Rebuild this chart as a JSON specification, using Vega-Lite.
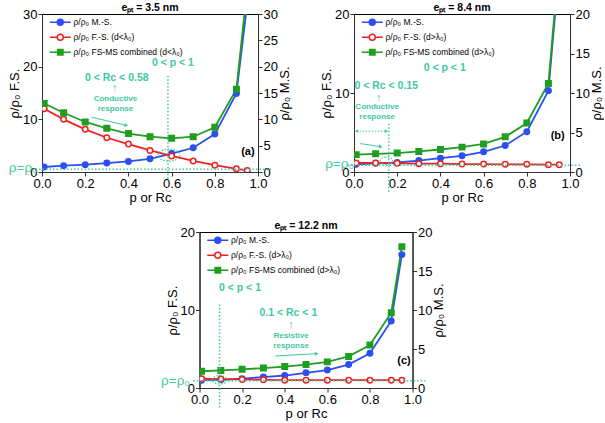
{
  "$schema": "https://vega.github.io/schema/vega-lite/v6.json",
  "padding": {"left": 8, "top": 2, "right": 0, "bottom": 0},
  "config": {
    "font": "Liberation Sans",
    "view": {"stroke": "black", "strokeWidth": 1},
    "axis": {
      "grid": false, "labelFontSize": 13, "titleFontSize": 13, "titleFontWeight": "normal", "labelFlush": false,
      "labelColor": "black", "titleColor": "black", "domainColor": "#333333", "tickColor": "#333333",
      "tickSize": 4, "labelPadding": 1, "titlePadding": 1
    },
    "legend": {
      "orient": "top-left", "offset": 3, "labelFontSize": 8.5, "symbolSize": 36,
      "symbolStrokeWidth": 1.5, "rowPadding": 2, "padding": 1, "labelLimit": 250,
      "symbolOffset": 10, "labelOffset": 9
    },
    "title": {"fontSize": 10.5, "fontWeight": "bold", "offset": -5, "color": "black"}
  },
  "datasets": {
    "a": [
      {"p": 0.01, "v": 0.95, "s": "MS"}, {"p": 0.1, "v": 1.2, "s": "MS"}, {"p": 0.2, "v": 1.4, "s": "MS"},
      {"p": 0.3, "v": 1.7, "s": "MS"}, {"p": 0.4, "v": 2.0, "s": "MS"}, {"p": 0.5, "v": 2.5, "s": "MS"},
      {"p": 0.6, "v": 3.5, "s": "MS"}, {"p": 0.7, "v": 4.6, "s": "MS"}, {"p": 0.8, "v": 7.2, "s": "MS"},
      {"p": 0.9, "v": 14.9, "s": "MS"}, {"p": 0.95, "v": 32, "s": "MS"},
      {"p": 0.01, "v": 12.0, "s": "FS"}, {"p": 0.1, "v": 10.0, "s": "FS"}, {"p": 0.2, "v": 8.1, "s": "FS"},
      {"p": 0.3, "v": 6.5, "s": "FS"}, {"p": 0.4, "v": 5.3, "s": "FS"}, {"p": 0.5, "v": 4.1, "s": "FS"},
      {"p": 0.6, "v": 3.05, "s": "FS"}, {"p": 0.7, "v": 2.1, "s": "FS"}, {"p": 0.8, "v": 1.3, "s": "FS"},
      {"p": 0.9, "v": 0.6, "s": "FS"}, {"p": 0.95, "v": 0.3, "s": "FS"},
      {"p": 0.01, "v": 13.0, "s": "FSMS"}, {"p": 0.1, "v": 11.25, "s": "FSMS"}, {"p": 0.2, "v": 9.5, "s": "FSMS"},
      {"p": 0.3, "v": 8.3, "s": "FSMS"}, {"p": 0.4, "v": 7.3, "s": "FSMS"}, {"p": 0.5, "v": 6.7, "s": "FSMS"},
      {"p": 0.6, "v": 6.4, "s": "FSMS"}, {"p": 0.7, "v": 6.7, "s": "FSMS"}, {"p": 0.8, "v": 8.5, "s": "FSMS"},
      {"p": 0.9, "v": 15.7, "s": "FSMS"}, {"p": 0.95, "v": 35, "s": "FSMS"}
    ],
    "b": [
      {"p": 0.01, "v": 0.97, "s": "MS"}, {"p": 0.1, "v": 1.1, "s": "MS"}, {"p": 0.2, "v": 1.2, "s": "MS"},
      {"p": 0.3, "v": 1.45, "s": "MS"}, {"p": 0.4, "v": 1.75, "s": "MS"}, {"p": 0.5, "v": 2.05, "s": "MS"},
      {"p": 0.6, "v": 2.55, "s": "MS"}, {"p": 0.7, "v": 3.35, "s": "MS"}, {"p": 0.8, "v": 5.1, "s": "MS"},
      {"p": 0.9, "v": 10.3, "s": "MS"}, {"p": 0.95, "v": 26, "s": "MS"},
      {"p": 0.01, "v": 1.15, "s": "FS"}, {"p": 0.1, "v": 1.15, "s": "FS"}, {"p": 0.2, "v": 1.1, "s": "FS"},
      {"p": 0.3, "v": 1.05, "s": "FS"}, {"p": 0.4, "v": 1.05, "s": "FS"}, {"p": 0.5, "v": 1.0, "s": "FS"},
      {"p": 0.6, "v": 1.0, "s": "FS"}, {"p": 0.7, "v": 0.97, "s": "FS"}, {"p": 0.8, "v": 0.97, "s": "FS"},
      {"p": 0.9, "v": 0.93, "s": "FS"}, {"p": 0.95, "v": 0.93, "s": "FS"},
      {"p": 0.01, "v": 2.2, "s": "FSMS"}, {"p": 0.1, "v": 2.3, "s": "FSMS"}, {"p": 0.2, "v": 2.4, "s": "FSMS"},
      {"p": 0.3, "v": 2.6, "s": "FSMS"}, {"p": 0.4, "v": 2.85, "s": "FSMS"}, {"p": 0.5, "v": 3.15, "s": "FSMS"},
      {"p": 0.6, "v": 3.55, "s": "FSMS"}, {"p": 0.7, "v": 4.45, "s": "FSMS"}, {"p": 0.8, "v": 6.2, "s": "FSMS"},
      {"p": 0.9, "v": 11.2, "s": "FSMS"}, {"p": 0.95, "v": 27, "s": "FSMS"}
    ],
    "c": [
      {"p": 0.01, "v": 1.0, "s": "MS"}, {"p": 0.1, "v": 1.05, "s": "MS"}, {"p": 0.2, "v": 1.2, "s": "MS"},
      {"p": 0.3, "v": 1.4, "s": "MS"}, {"p": 0.4, "v": 1.6, "s": "MS"}, {"p": 0.5, "v": 1.95, "s": "MS"},
      {"p": 0.6, "v": 2.3, "s": "MS"}, {"p": 0.7, "v": 3.0, "s": "MS"}, {"p": 0.8, "v": 4.45, "s": "MS"},
      {"p": 0.9, "v": 8.6, "s": "MS"}, {"p": 0.95, "v": 17.1, "s": "MS"},
      {"p": 0.01, "v": 1.2, "s": "FS"}, {"p": 0.1, "v": 1.15, "s": "FS"}, {"p": 0.2, "v": 1.1, "s": "FS"},
      {"p": 0.3, "v": 1.05, "s": "FS"}, {"p": 0.4, "v": 1.0, "s": "FS"}, {"p": 0.5, "v": 1.0, "s": "FS"},
      {"p": 0.6, "v": 1.0, "s": "FS"}, {"p": 0.7, "v": 1.0, "s": "FS"}, {"p": 0.8, "v": 1.0, "s": "FS"},
      {"p": 0.9, "v": 1.0, "s": "FS"}, {"p": 0.95, "v": 1.0, "s": "FS"},
      {"p": 0.01, "v": 2.15, "s": "FSMS"}, {"p": 0.1, "v": 2.25, "s": "FSMS"}, {"p": 0.2, "v": 2.4, "s": "FSMS"},
      {"p": 0.3, "v": 2.55, "s": "FSMS"}, {"p": 0.4, "v": 2.75, "s": "FSMS"}, {"p": 0.5, "v": 3.0, "s": "FSMS"},
      {"p": 0.6, "v": 3.35, "s": "FSMS"}, {"p": 0.7, "v": 4.05, "s": "FSMS"}, {"p": 0.8, "v": 5.5, "s": "FSMS"},
      {"p": 0.9, "v": 9.65, "s": "FSMS"}, {"p": 0.95, "v": 18.1, "s": "FSMS"}
    ]
  },
  "center": true,
  "spacing": 15,
  "resolve": {
    "scale": {"color": "independent", "stroke": "independent", "fill": "independent", "shape": "independent"},
    "legend": {"stroke": "independent", "fill": "independent", "shape": "independent"}
  },
  "vconcat": [
    {
      "spacing": 28,
      "resolve": {
        "scale": {"color": "independent", "stroke": "independent", "fill": "independent", "shape": "independent"},
        "legend": {"stroke": "independent", "fill": "independent", "shape": "independent"}
      },
      "hconcat": [
        {
          "width": 216, "height": 158,
          "title": "eₚₜ = 3.5 nm",
          "data": {"values": [{}]},
          "layer": [
            {
              "layer": [
                {
                  "data": {"name": "a"},
                  "mark": {"type": "line", "clip": true, "strokeWidth": 1.8},
                  "encoding": {
                    "x": {"field": "p", "type": "quantitative", "title": "p or Rc", "scale": {"domain": [0, 1], "domainRaw": {"expr": "[0, 1]"}, "nice": false}, "axis": {"values": [0, 0.2, 0.4, 0.6, 0.8, 1], "format": ".1f"}},
                    "y": {"field": "v", "type": "quantitative", "title": "ρ/ρ₀ F.S.", "scale": {"domain": [0, 30], "nice": false}, "axis": {"values": [0, 5, 10, 15, 20, 25, 30]}},
                    "color": {"field": "s", "type": "nominal", "legend": null, "scale": {"domain": ["FSMS", "FS", "MS"], "range": ["#1f9e1f", "#ee2020", "#2b4ff2"]}}
                  }
                },
                {
                  "data": {"name": "a"},
                  "transform": [{"filter": "datum.s != 'FSMS'"}],
                  "mark": {"type": "point", "shape": "circle", "clip": true, "size": 30, "strokeWidth": 1.5, "opacity": 1},
                  "encoding": {
                    "x": {"field": "p", "type": "quantitative"},
                    "y": {"field": "v", "type": "quantitative"},
                    "stroke": {"field": "s", "type": "nominal", "scale": {"domain": ["MS", "FS", "FSMS"], "range": ["#2b4ff2", "#ee2020", "#1f9e1f"]}, "legend": {"title": null, "labelExpr": "datum.label == 'MS' ? 'ρ/ρ₀ M.-S.' : datum.label == 'FS' ? 'ρ/ρ₀ F.-S. (d<λ₀)' : 'ρ/ρ₀ FS-MS combined (d<λ₀)'"}},
                    "fill": {"field": "s", "type": "nominal", "scale": {"domain": ["MS", "FS", "FSMS"], "range": ["#2b4ff2", "white", "#1f9e1f"]}, "legend": {"title": null, "labelExpr": "datum.label == 'MS' ? 'ρ/ρ₀ M.-S.' : datum.label == 'FS' ? 'ρ/ρ₀ F.-S. (d<λ₀)' : 'ρ/ρ₀ FS-MS combined (d<λ₀)'"}}
                  }
                },
                {
                  "data": {"name": "a"},
                  "transform": [{"filter": "datum.s == 'FSMS'"}],
                  "mark": {"type": "point", "shape": "square", "clip": true, "size": 30, "strokeWidth": 1.5, "opacity": 1},
                  "encoding": {
                    "x": {"field": "p", "type": "quantitative"},
                    "y": {"field": "v", "type": "quantitative"},
                    "stroke": {"field": "s", "type": "nominal"},
                    "fill": {"field": "s", "type": "nominal"}
                  }
                },
                {
                  "data": {"name": "a"},
                  "transform": [{"filter": "false"}],
                  "mark": {"type": "point", "size": 30, "strokeWidth": 1.5, "opacity": 1},
                  "encoding": {
                    "x": {"field": "p", "type": "quantitative"},
                    "y": {"field": "v", "type": "quantitative"},
                    "stroke": {"field": "s", "type": "nominal"},
                    "fill": {"field": "s", "type": "nominal"},
                    "shape": {"field": "s", "type": "nominal", "scale": {"domain": ["MS", "FS", "FSMS"], "range": ["M-3.5,0H-1M1,0H3.5M1,0A1,1,0,1,1,-1,0A1,1,0,1,1,1,0Z", "M-3.5,0H-1M1,0H3.5M1,0A1,1,0,1,1,-1,0A1,1,0,1,1,1,0Z", "M-3.5,0H-0.9M0.9,0H3.5M-0.9,-0.9H0.9V0.9H-0.9Z"]}, "legend": {"title": null, "labelExpr": "datum.label == 'MS' ? 'ρ/ρ₀ M.-S.' : datum.label == 'FS' ? 'ρ/ρ₀ F.-S. (d<λ₀)' : 'ρ/ρ₀ FS-MS combined (d<λ₀)'"}}
                  }
                },
                {
                  "mark": {"type": "rule", "color": "#3dc9a3", "strokeWidth": 1.5, "strokeDash": [1.5, 2]},
                  "encoding": {"x": {"datum": 0.583}, "y": {"datum": -1.3}, "y2": {"datum": 18.4}}
                },
                {
                  "mark": {"type": "point", "shape": "M-1,0A1,0.55,0,1,1,1,0A1,0.55,0,1,1,-1,0Z", "size": 480, "color": "#3dc9a3", "strokeWidth": 1.2, "strokeDash": [1.5, 1.5], "filled": false, "opacity": 1},
                  "encoding": {"x": {"datum": 0.588}, "y": {"datum": 3.2}}
                },
                {
                  "mark": {"type": "text", "color": "#3dc9a3", "fontWeight": "bold", "fontSize": 10.5},
                  "encoding": {"x": {"datum": 0.606}, "y": {"datum": 20.7}, "text": {"value": "0 < p < 1"}}
                },
                {
                  "mark": {"type": "text", "color": "#3dc9a3", "fontWeight": "bold", "fontSize": 10.5},
                  "encoding": {"x": {"datum": 0.346}, "y": {"datum": 17.9}, "text": {"value": "0 < Rc < 0.58"}}
                },
                {
                  "mark": {"type": "text", "color": "#3dc9a3", "fontWeight": "bold", "fontSize": 11},
                  "encoding": {"x": {"datum": 0.337}, "y": {"datum": 16.0}, "text": {"value": "↑"}}
                },
                {
                  "mark": {"type": "text", "color": "#3dc9a3", "fontWeight": "bold", "fontSize": 8, "lineHeight": 10},
                  "encoding": {"x": {"datum": 0.34}, "y": {"datum": 13.9}, "text": {"value": ["Conductive", "response"]}}
                },
                {
                  "mark": {"type": "rule", "color": "#3dc9a3", "strokeWidth": 1},
                  "encoding": {"x": {"datum": 0.23}, "y": {"datum": 10.4}, "x2": {"datum": 0.39}, "y2": {"datum": 8.85}}
                },
                {
                  "mark": {"type": "point", "shape": "triangle-right", "size": 18, "color": "#3dc9a3", "filled": true, "opacity": 1, "angle": 13},
                  "encoding": {"x": {"datum": 0.39}, "y": {"datum": 8.85}}
                },
                {
                  "mark": {"type": "text", "color": "black", "fontWeight": "bold", "fontSize": 11},
                  "encoding": {"x": {"datum": 0.953}, "y": {"datum": 3.8}, "text": {"value": "(a)"}}
                },
                {
                  "mark": {"type": "text", "color": "#3dc9a3", "fontSize": 13.5, "align": "right"},
                  "encoding": {"x": {"datum": -0.02}, "y": {"datum": 0.8}, "text": {"value": "ρ=ρ₀"}}
                }
              ]
            },
            {
              "mark": {"type": "rule", "color": "#3dc9a3", "strokeWidth": 1.5, "strokeDash": [1.5, 2]},
              "encoding": {
                "x": {"datum": -0.03}, "x2": {"datum": 1.06},
                "y": {"datum": 0.5, "scale": {"domain": [0, 30], "nice": false}, "axis": {"title": "ρ/ρ₀ M.S.", "orient": "right", "titleAngle": 270, "titleBaseline": "top", "values": [0, 5, 10, 15, 20, 25, 30]}}
              }
            }
          ],
          "resolve": {"scale": {"y": "independent"}}
        },
        {
          "width": 216, "height": 158,
          "title": "eₚₜ = 8.4 nm",
          "data": {"values": [{}]},
          "layer": [
            {
              "layer": [
                {
                  "data": {"name": "b"},
                  "mark": {"type": "line", "clip": true, "strokeWidth": 1.8},
                  "encoding": {
                    "x": {"field": "p", "type": "quantitative", "title": "p or Rc", "scale": {"domain": [0, 1], "domainRaw": {"expr": "[0, 1]"}, "nice": false}, "axis": {"values": [0, 0.2, 0.4, 0.6, 0.8, 1], "format": ".1f"}},
                    "y": {"field": "v", "type": "quantitative", "title": "ρ/ρ₀ F.S.", "scale": {"domain": [0, 20], "nice": false}, "axis": {"values": [0, 5, 10, 15, 20]}},
                    "color": {"field": "s", "type": "nominal", "legend": null, "scale": {"domain": ["FSMS", "FS", "MS"], "range": ["#1f9e1f", "#ee2020", "#2b4ff2"]}}
                  }
                },
                {
                  "data": {"name": "b"},
                  "transform": [{"filter": "datum.s != 'FSMS'"}],
                  "mark": {"type": "point", "shape": "circle", "clip": true, "size": 30, "strokeWidth": 1.5, "opacity": 1},
                  "encoding": {
                    "x": {"field": "p", "type": "quantitative"},
                    "y": {"field": "v", "type": "quantitative"},
                    "stroke": {"field": "s", "type": "nominal", "scale": {"domain": ["MS", "FS", "FSMS"], "range": ["#2b4ff2", "#ee2020", "#1f9e1f"]}, "legend": {"title": null, "labelExpr": "datum.label == 'MS' ? 'ρ/ρ₀ M.-S.' : datum.label == 'FS' ? 'ρ/ρ₀ F.-S. (d>λ₀)' : 'ρ/ρ₀ FS-MS combined (d>λ₀)'"}},
                    "fill": {"field": "s", "type": "nominal", "scale": {"domain": ["MS", "FS", "FSMS"], "range": ["#2b4ff2", "white", "#1f9e1f"]}, "legend": {"title": null, "labelExpr": "datum.label == 'MS' ? 'ρ/ρ₀ M.-S.' : datum.label == 'FS' ? 'ρ/ρ₀ F.-S. (d>λ₀)' : 'ρ/ρ₀ FS-MS combined (d>λ₀)'"}}
                  }
                },
                {
                  "data": {"name": "b"},
                  "transform": [{"filter": "datum.s == 'FSMS'"}],
                  "mark": {"type": "point", "shape": "square", "clip": true, "size": 30, "strokeWidth": 1.5, "opacity": 1},
                  "encoding": {
                    "x": {"field": "p", "type": "quantitative"},
                    "y": {"field": "v", "type": "quantitative"},
                    "stroke": {"field": "s", "type": "nominal"},
                    "fill": {"field": "s", "type": "nominal"}
                  }
                },
                {
                  "data": {"name": "b"},
                  "transform": [{"filter": "false"}],
                  "mark": {"type": "point", "size": 30, "strokeWidth": 1.5, "opacity": 1},
                  "encoding": {
                    "x": {"field": "p", "type": "quantitative"},
                    "y": {"field": "v", "type": "quantitative"},
                    "stroke": {"field": "s", "type": "nominal"},
                    "fill": {"field": "s", "type": "nominal"},
                    "shape": {"field": "s", "type": "nominal", "scale": {"domain": ["MS", "FS", "FSMS"], "range": ["M-3.5,0H-1M1,0H3.5M1,0A1,1,0,1,1,-1,0A1,1,0,1,1,1,0Z", "M-3.5,0H-1M1,0H3.5M1,0A1,1,0,1,1,-1,0A1,1,0,1,1,1,0Z", "M-3.5,0H-0.9M0.9,0H3.5M-0.9,-0.9H0.9V0.9H-0.9Z"]}, "legend": {"title": null, "labelExpr": "datum.label == 'MS' ? 'ρ/ρ₀ M.-S.' : datum.label == 'FS' ? 'ρ/ρ₀ F.-S. (d>λ₀)' : 'ρ/ρ₀ FS-MS combined (d>λ₀)'"}}
                  }
                },
                {
                  "mark": {"type": "rule", "color": "#3dc9a3", "strokeWidth": 1.5, "strokeDash": [1.5, 2]},
                  "encoding": {"x": {"datum": 0.161}, "y": {"datum": -2.5}, "y2": {"datum": 6.2}}
                },
                {
                  "mark": {"type": "rule", "color": "#3dc9a3", "strokeWidth": 1, "strokeDash": [1.5, 1.5]},
                  "encoding": {"x": {"datum": 0.012}, "y": {"datum": 5.17}, "x2": {"datum": 0.15}}
                },
                {
                  "mark": {"type": "point", "shape": "triangle-left", "size": 14, "color": "#3dc9a3", "filled": true, "opacity": 1},
                  "encoding": {"x": {"datum": 0.012}, "y": {"datum": 5.17}}
                },
                {
                  "mark": {"type": "point", "shape": "triangle-right", "size": 14, "color": "#3dc9a3", "filled": true, "opacity": 1},
                  "encoding": {"x": {"datum": 0.15}, "y": {"datum": 5.17}}
                },
                {
                  "mark": {"type": "point", "shape": "M-1,0A1,0.6,0,1,1,1,0A1,0.6,0,1,1,-1,0Z", "size": 160, "color": "#3dc9a3", "strokeWidth": 1.2, "strokeDash": [1.5, 1.5], "filled": false, "opacity": 1},
                  "encoding": {"x": {"datum": 0.15}, "y": {"datum": 1.4}}
                },
                {
                  "mark": {"type": "text", "color": "#3dc9a3", "fontWeight": "bold", "fontSize": 10.5},
                  "encoding": {"x": {"datum": 0.42}, "y": {"datum": 13.2}, "text": {"value": "0 < p < 1"}}
                },
                {
                  "mark": {"type": "text", "color": "#3dc9a3", "fontWeight": "bold", "fontSize": 10.5},
                  "encoding": {"x": {"datum": 0.149}, "y": {"datum": 10.9}, "text": {"value": "0 < Rc < 0.15"}}
                },
                {
                  "mark": {"type": "text", "color": "#3dc9a3", "fontWeight": "bold", "fontSize": 11},
                  "encoding": {"x": {"datum": 0.115}, "y": {"datum": 9.4}, "text": {"value": "↑"}}
                },
                {
                  "mark": {"type": "text", "color": "#3dc9a3", "fontWeight": "bold", "fontSize": 8, "lineHeight": 10},
                  "encoding": {"x": {"datum": 0.107}, "y": {"datum": 8.2}, "text": {"value": ["Conductive", "response"]}}
                },
                {
                  "mark": {"type": "rule", "color": "#3dc9a3", "strokeWidth": 1},
                  "encoding": {"x": {"datum": 0.029}, "y": {"datum": 3.6}, "x2": {"datum": 0.124}, "y2": {"datum": 3.2}}
                },
                {
                  "mark": {"type": "point", "shape": "triangle-right", "size": 18, "color": "#3dc9a3", "filled": true, "opacity": 1, "angle": 9},
                  "encoding": {"x": {"datum": 0.124}, "y": {"datum": 3.2}}
                },
                {
                  "mark": {"type": "text", "color": "black", "fontWeight": "bold", "fontSize": 11},
                  "encoding": {"x": {"datum": 0.943}, "y": {"datum": 4.6}, "text": {"value": "(b)"}}
                },
                {
                  "mark": {"type": "text", "color": "#3dc9a3", "fontSize": 13.5, "align": "right"},
                  "encoding": {"x": {"datum": 0.0}, "y": {"datum": 1.0}, "text": {"value": "ρ=ρ₀"}}
                }
              ]
            },
            {
              "mark": {"type": "rule", "color": "#3dc9a3", "strokeWidth": 1.5, "strokeDash": [1.5, 2]},
              "encoding": {
                "x": {"datum": -0.03}, "x2": {"datum": 1.055},
                "y": {"datum": 0.85, "scale": {"domain": [0, 20], "nice": false}, "axis": {"title": "ρ/ρ₀ M.S.", "orient": "right", "titleAngle": 270, "titleBaseline": "top", "values": [0, 5, 10, 15, 20]}}
              }
            }
          ],
          "resolve": {"scale": {"y": "independent"}}
        }
      ]
    },
    {
      "width": 213, "height": 156,
      "title": "eₚₜ = 12.2 nm",
      "data": {"values": [{}]},
      "layer": [
        {
          "layer": [
            {
              "data": {"name": "c"},
              "mark": {"type": "line", "clip": true, "strokeWidth": 1.8},
              "encoding": {
                "x": {"field": "p", "type": "quantitative", "title": "p or Rc", "scale": {"domain": [0, 1], "domainRaw": {"expr": "[0, 1]"}, "nice": false}, "axis": {"values": [0, 0.2, 0.4, 0.6, 0.8, 1], "format": ".1f"}},
                "y": {"field": "v", "type": "quantitative", "title": "ρ/ρ₀ F.S.", "scale": {"domain": [0, 20], "nice": false}, "axis": {"values": [0, 5, 10, 15, 20]}},
                "color": {"field": "s", "type": "nominal", "legend": null, "scale": {"domain": ["FSMS", "FS", "MS"], "range": ["#1f9e1f", "#ee2020", "#2b4ff2"]}}
              }
            },
            {
              "data": {"name": "c"},
              "transform": [{"filter": "datum.s != 'FSMS'"}],
              "mark": {"type": "point", "shape": "circle", "clip": true, "size": 30, "strokeWidth": 1.5, "opacity": 1},
              "encoding": {
                "x": {"field": "p", "type": "quantitative"},
                "y": {"field": "v", "type": "quantitative"},
                "stroke": {"field": "s", "type": "nominal", "scale": {"domain": ["MS", "FS", "FSMS"], "range": ["#2b4ff2", "#ee2020", "#1f9e1f"]}, "legend": {"title": null, "labelExpr": "datum.label == 'MS' ? 'ρ/ρ₀ M.-S.' : datum.label == 'FS' ? 'ρ/ρ₀ F.-S. (d>λ₀)' : 'ρ/ρ₀ FS-MS combined (d>λ₀)'"}},
                "fill": {"field": "s", "type": "nominal", "scale": {"domain": ["MS", "FS", "FSMS"], "range": ["#2b4ff2", "white", "#1f9e1f"]}, "legend": {"title": null, "labelExpr": "datum.label == 'MS' ? 'ρ/ρ₀ M.-S.' : datum.label == 'FS' ? 'ρ/ρ₀ F.-S. (d>λ₀)' : 'ρ/ρ₀ FS-MS combined (d>λ₀)'"}}
              }
            },
            {
              "data": {"name": "c"},
              "transform": [{"filter": "datum.s == 'FSMS'"}],
              "mark": {"type": "point", "shape": "square", "clip": true, "size": 30, "strokeWidth": 1.5, "opacity": 1},
              "encoding": {
                "x": {"field": "p", "type": "quantitative"},
                "y": {"field": "v", "type": "quantitative"},
                "stroke": {"field": "s", "type": "nominal"},
                "fill": {"field": "s", "type": "nominal"}
              }
            },
            {
              "data": {"name": "c"},
              "transform": [{"filter": "false"}],
              "mark": {"type": "point", "size": 30, "strokeWidth": 1.5, "opacity": 1},
              "encoding": {
                "x": {"field": "p", "type": "quantitative"},
                "y": {"field": "v", "type": "quantitative"},
                "stroke": {"field": "s", "type": "nominal"},
                "fill": {"field": "s", "type": "nominal"},
                "shape": {"field": "s", "type": "nominal", "scale": {"domain": ["MS", "FS", "FSMS"], "range": ["M-3.5,0H-1M1,0H3.5M1,0A1,1,0,1,1,-1,0A1,1,0,1,1,1,0Z", "M-3.5,0H-1M1,0H3.5M1,0A1,1,0,1,1,-1,0A1,1,0,1,1,1,0Z", "M-3.5,0H-0.9M0.9,0H3.5M-0.9,-0.9H0.9V0.9H-0.9Z"]}, "legend": {"title": null, "labelExpr": "datum.label == 'MS' ? 'ρ/ρ₀ M.-S.' : datum.label == 'FS' ? 'ρ/ρ₀ F.-S. (d>λ₀)' : 'ρ/ρ₀ FS-MS combined (d>λ₀)'"}}
              }
            },
            {
              "mark": {"type": "rule", "color": "#3dc9a3", "strokeWidth": 1.5, "strokeDash": [1.5, 2]},
              "encoding": {"x": {"datum": 0.094}, "y": {"datum": -2.5}, "y2": {"datum": 10.7}}
            },
            {
              "mark": {"type": "point", "shape": "M-1,0A1,0.6,0,1,1,1,0A1,0.6,0,1,1,-1,0Z", "size": 200, "color": "#3dc9a3", "strokeWidth": 1.2, "strokeDash": [1.5, 1.5], "filled": false, "opacity": 1},
              "encoding": {"x": {"datum": 0.094}, "y": {"datum": 1.05}}
            },
            {
              "mark": {"type": "text", "color": "#3dc9a3", "fontWeight": "bold", "fontSize": 10.5},
              "encoding": {"x": {"datum": 0.19}, "y": {"datum": 12.85}, "text": {"value": "0 < p < 1"}}
            },
            {
              "mark": {"type": "text", "color": "#3dc9a3", "fontWeight": "bold", "fontSize": 10.5},
              "encoding": {"x": {"datum": 0.417}, "y": {"datum": 9.65}, "text": {"value": "0.1 < Rc < 1"}}
            },
            {
              "mark": {"type": "text", "color": "#3dc9a3", "fontWeight": "bold", "fontSize": 11},
              "encoding": {"x": {"datum": 0.43}, "y": {"datum": 8.1}, "text": {"value": "↑"}}
            },
            {
              "mark": {"type": "text", "color": "#3dc9a3", "fontWeight": "bold", "fontSize": 8, "lineHeight": 10},
              "encoding": {"x": {"datum": 0.43}, "y": {"datum": 6.7}, "text": {"value": ["Resistive", "response"]}}
            },
            {
              "mark": {"type": "rule", "color": "#3dc9a3", "strokeWidth": 1},
              "encoding": {"x": {"datum": 0.356}, "y": {"datum": 4.1}, "x2": {"datum": 0.55}, "y2": {"datum": 4.4}}
            },
            {
              "mark": {"type": "point", "shape": "triangle-right", "size": 18, "color": "#3dc9a3", "filled": true, "opacity": 1, "angle": -3},
              "encoding": {"x": {"datum": 0.55}, "y": {"datum": 4.4}}
            },
            {
              "mark": {"type": "text", "color": "black", "fontWeight": "bold", "fontSize": 11},
              "encoding": {"x": {"datum": 0.96}, "y": {"datum": 3.5}, "text": {"value": "(c)"}}
            },
            {
              "mark": {"type": "text", "color": "#3dc9a3", "fontSize": 13.5, "align": "right"},
              "encoding": {"x": {"datum": -0.045}, "y": {"datum": 0.85}, "text": {"value": "ρ=ρ₀"}}
            }
          ]
        },
        {
          "mark": {"type": "rule", "color": "#3dc9a3", "strokeWidth": 1.5, "strokeDash": [1.5, 2]},
          "encoding": {
            "x": {"datum": -0.03}, "x2": {"datum": 1.06},
            "y": {"datum": 0.93, "scale": {"domain": [0, 20], "nice": false}, "axis": {"title": "ρ/ρ₀ M.S.", "orient": "right", "titleAngle": 270, "titleBaseline": "top", "values": [0, 5, 10, 15, 20]}}
          }
        }
      ],
      "resolve": {"scale": {"y": "independent"}}
    }
  ]
}
